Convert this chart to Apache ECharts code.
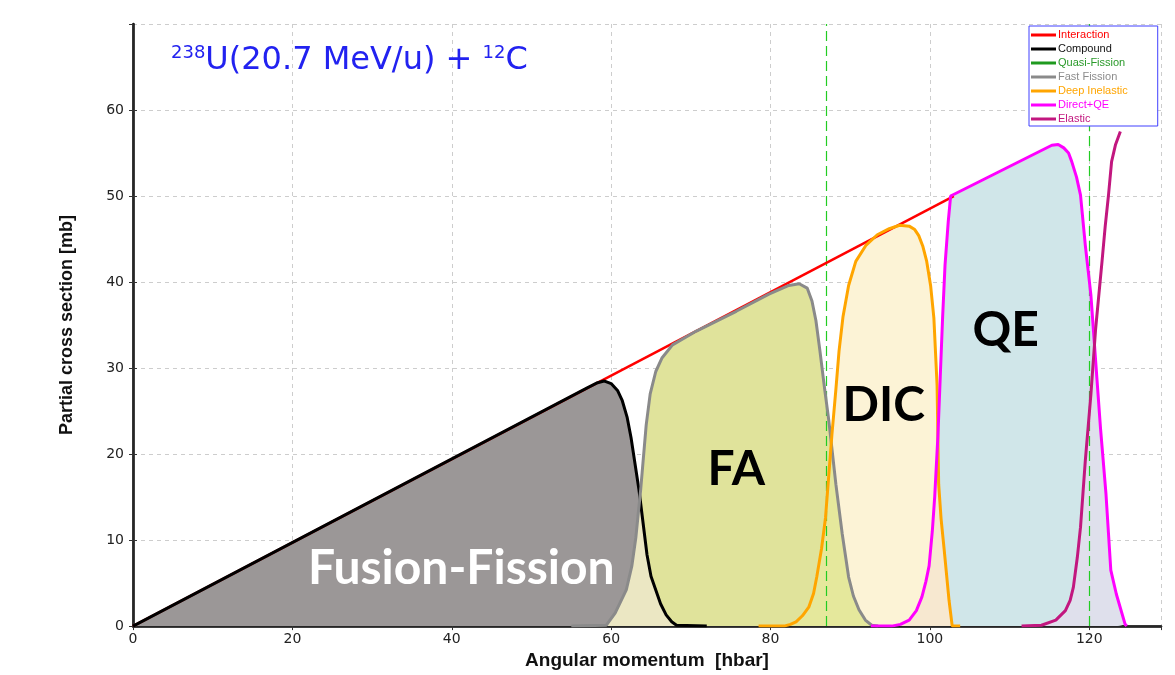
<!DOCTYPE html>
<html><head><meta charset="utf-8">
<script src="https://cdn.jsdelivr.net/npm/echarts/dist/echarts.min.js"></script>
<style>html,body{margin:0;padding:0;background:#fff}#c{width:1175px;height:675px}</style>
</head><body><div id="c"></div>
<script>
// ---- data: [angular momentum, cross section] ----
const interaction = [[0,0],[103,50]];
const compound = [[0,0],[57,27.7],[58.3,28.3],[59.1,28.5],[60,28.2],[60.8,27.4],[61.4,26.2],[62,24.3],[62.5,21.9],[63.5,15.8],[64.5,8.3],[65.0,5.8],[65.6,4.2],[66.2,2.6],[66.9,1.3],[67.6,0.5],[68.2,0.1],[72,0]];
const quasiFission = [];
const fastFission = [[55,0],[59.4,0.1],[60.5,1.5],[61.9,4.2],[62.6,7],[63.1,10.3],[63.7,15.8],[64.4,23.4],[64.9,27],[65.6,29.6],[66.4,31.2],[67.7,32.7],[70.7,34.3],[75.7,36.6],[79.8,38.6],[82.3,39.6],[83.6,39.8],[84.6,39.3],[85.2,37.8],[85.7,35.5],[86.2,32],[86.8,27.5],[87.3,24],[88.2,16.5],[89.0,10.7],[89.8,5.7],[90.4,3.5],[91.1,1.9],[91.9,0.7],[92.7,0.1],[93.5,0]];
const deepInelastic = [[78.5,0],[81.7,0],[82.5,0.2],[83.2,0.5],[84,1.2],[84.8,2.2],[85.4,3.8],[85.8,5.7],[86.4,9],[86.9,12.6],[87.7,22.2],[88.2,27.5],[88.6,32],[89.1,36],[89.8,39.6],[90.7,42.4],[92.0,44.3],[93.4,45.5],[94.9,46.2],[96.2,46.6],[97.4,46.5],[98.1,46.1],[98.6,45.4],[99.1,44.2],[99.6,42.4],[100.1,39.5],[100.5,35.8],[100.9,28.0],[101.1,16.5],[101.4,12.5],[101.8,8.8],[102.4,3.0],[102.8,0],[103.8,0]];
const directQE = [[92.6,0],[95.2,0],[96.3,0.2],[97.4,0.7],[98.3,1.8],[99.0,3.4],[99.5,5.2],[99.9,7],[100.3,11],[100.6,15],[101.0,22],[101.3,29],[101.6,36],[101.9,42],[102.3,47],[102.6,50],[115.3,55.9],[116.1,56.0],[116.8,55.6],[117.4,55],[117.8,54.0],[118.4,52.2],[118.9,50.1],[119.5,44.3],[120.2,38.5],[120.8,30.8],[121.4,23.1],[122.1,15.3],[122.7,6.5],[123.4,3.7],[124.5,0.2],[124.7,0]];
const elastic = [[111.5,0],[114,0.1],[115.8,0.7],[117,1.8],[117.6,3],[118,4.5],[118.5,8],[118.9,11.5],[119.5,19.2],[120.2,26.9],[120.8,34.6],[121.6,42.4],[122.0,46.5],[122.4,50],[122.8,54],[123.3,56],[123.9,57.5]];

// overlap regions (where two shaded areas overlap)
const overlapCompoundFA = [[59.4,0],[60.5,1.5],[61.9,4.2],[62.6,7],[63.1,10.3],[63.6,15],[64.5,8.3],[65.0,5.8],[65.6,4.2],[66.2,2.6],[66.9,1.3],[67.6,0.5],[68.2,0]];
const overlapFADIC = [[81.7,0],[82.5,0.2],[83.2,0.5],[84,1.2],[84.8,2.2],[85.4,3.8],[85.8,5.7],[86.4,9],[86.9,12.6],[87.6,21.2],[88.2,16.5],[89.0,10.7],[89.8,5.7],[90.4,3.5],[91.1,1.9],[91.9,0.7],[92.7,0.1],[93.5,0]];
const overlapDICQE = [[95.2,0],[96.3,0.2],[97.4,0.7],[98.3,1.8],[99.0,3.4],[99.5,5.2],[99.9,7],[100.3,11],[100.6,15],[101.0,22.1],[101.1,16.5],[101.4,12.5],[101.8,8.8],[102.4,3.0],[102.8,0]];
const overlapQEElastic = [[113,0],[114,0.1],[115.8,0.7],[117,1.8],[117.6,3],[118,4.5],[118.5,8],[118.9,11.5],[119.5,19.2],[120.2,26.9],[120.65,32.7],[120.8,30.8],[121.4,23.1],[122.1,15.3],[122.7,6.5],[123.4,3.7],[124.5,0.2],[124.7,0]];

const guideLines = [87, 120];
const regionNames = ['Fusion-Fission', 'FA', 'DIC', 'QE'];
const regionAnchors = [[41.2, 6.7], [75.7, 18.2], [94.2, 25.7], [109.5, 34.4]];

const seriesNames = ['Interaction','Compound','Quasi-Fission','Fast Fission','Deep Inelastic','Direct+QE','Elastic'];
const seriesData = [interaction, compound, quasiFission, fastFission, deepInelastic, directQE, elastic];
const lineColors = ['#ff0000','#000000','#1f9a1f','#8a8a8a','#ffa500','#ff00ff','#c2177f'];
const legendText = ['#ff0000','#111111','#2a9a2a','#8c8c8c','#ffa500','#ff00ff','#c2177f'];

const chart = echarts.init(document.getElementById('c'), null, {renderer: 'canvas'});

function fill(name, data, color, z) {
  return {name, type: 'line', data, z, silent: true, symbol: 'none', smooth: false,
    lineStyle: {width: 0, opacity: 0}, areaStyle: {color, opacity: 1}, legendHoverLink: false};
}

const series = [
  fill('f-compound', compound, '#9b9797', 2),
  fill('f-dic', deepInelastic, '#fcf3d6', 2),
  fill('f-fa', fastFission, '#e0e39b', 2),
  fill('f-qe', directQE, '#d0e6e9', 2),
  fill('o-1', overlapCompoundFA, '#ebe7c3', 3),
  fill('o-2', overlapFADIC, '#e5e89c', 3),
  fill('o-3', overlapDICQE, '#f7e8d0', 3),
  fill('o-4', overlapQEElastic, '#dfe0ec', 3),
  {
    name: 'guides', type: 'line', data: [], z: 4.5, silent: true,
    markLine: {silent: true, symbol: 'none', label: {show: false}, z: 4.5,
      lineStyle: {color: '#22cc22', type: [10, 5], width: 1.2, opacity: 1},
      data: guideLines.map(v => ({xAxis: v}))}
  }
];
seriesNames.forEach((n, i) => {
  series.push({name: n, type: 'line', data: seriesData[i], z: 5, symbol: 'none', smooth: false,
    color: lineColors[i], lineStyle: {color: lineColors[i], width: i === 0 ? 2.5 : 3}});
});
series.push({
  name: 'labels', type: 'scatter', z: 6, symbolSize: 0, silent: true,
  itemStyle: {opacity: 1},
  data: regionNames.map((t, i) => ({value: [regionAnchors[i][0], regionAnchors[i][1], t],
    label: {color: i === 0 ? '#ffffff' : '#000000', opacity: 1}})),
  label: {show: true, position: 'inside', formatter: p => p.value[2], opacity: 1,
    fontFamily: 'Lato', fontWeight: 'bold', fontSize: 48, textBorderWidth: 0}
});

const tickFont = {fontFamily: 'DejaVu Sans', fontSize: 14, color: '#222'};

chart.setOption({
  animation: false,
  backgroundColor: '#ffffff',
  title: {
    left: 166, top: 39,
    text: '{s|238}{m|U(20.7 MeV/u) + }{s|12}{m|C}',
    textStyle: {
      fontWeight: 'normal',
      rich: {
        s: {fontFamily: 'DejaVu Sans', fontWeight: 'normal', fontSize: 18, color: '#2222f0', verticalAlign: 'top', lineHeight: 33},
        m: {fontFamily: 'DejaVu Sans', fontWeight: 'normal', fontSize: 32, color: '#2222f0', lineHeight: 33}
      }
    }
  },
  legend: {
    orient: 'vertical', left: 1029, top: 26, selectedMode: false, z: 20,
    backgroundColor: '#ffffff',
    borderColor: '#4040ff', borderWidth: 1, padding: [3, 30, 1, 2],
    itemWidth: 25, itemHeight: 3, itemGap: 2, icon: 'rect',
    textStyle: {fontFamily: 'Arial', fontSize: 11, padding: [0, 0, 0, -3], lineHeight: 12},
    data: seriesNames.map((n, i) => ({name: n, textStyle: {color: legendText[i]}}))
  },
  grid: {left: 133, right: 14, top: 24, bottom: 46, show: false},
  xAxis: [{
    type: 'value', min: 0, max: 129, interval: 20,
    name: 'Angular momentum  [hbar]', nameLocation: 'middle', nameGap: 21,
    nameTextStyle: {fontFamily: 'Arial', fontWeight: 'bold', fontSize: 19, color: '#111'},
    axisLine: {lineStyle: {color: '#000', width: 2.5}},
    axisTick: {inside: true, length: 4, lineStyle: {color: '#333'}},
    axisLabel: Object.assign({margin: 6, showMaxLabel: false}, tickFont),
    splitLine: {show: true, lineStyle: {color: '#cdcdcd', type: [4, 4], width: 1}}
  }, {
    type: 'value', min: 0, max: 129, interval: 20, position: 'top',
    axisLine: {show: true, lineStyle: {color: '#333', width: 1.5}},
    axisTick: {show: true, inside: true, length: 4, lineStyle: {color: '#333'}},
    axisLabel: {show: false}, splitLine: {show: false}
  }],
  yAxis: [{
    type: 'value', min: 0, max: 70, interval: 10,
    name: 'Partial cross section [mb]', nameLocation: 'middle', nameGap: 57,
    nameTextStyle: {fontFamily: 'Arial', fontWeight: 'bold', fontSize: 18, color: '#111'},
    axisLine: {show: true, lineStyle: {color: '#000', width: 2.5}},
    axisTick: {show: true, inside: true, length: 4, lineStyle: {color: '#333'}},
    axisLabel: Object.assign({margin: 9, showMaxLabel: false}, tickFont),
    splitLine: {show: true, lineStyle: {color: '#cdcdcd', type: [4, 4], width: 1}}
  }, {
    type: 'value', min: 0, max: 70, interval: 10, position: 'right',
    axisLine: {show: true, lineStyle: {color: '#333', width: 1.5}},
    axisTick: {show: true, inside: true, length: 4, lineStyle: {color: '#333'}},
    axisLabel: {show: false}, splitLine: {show: false}
  }],
  series
});
</script></body></html>
